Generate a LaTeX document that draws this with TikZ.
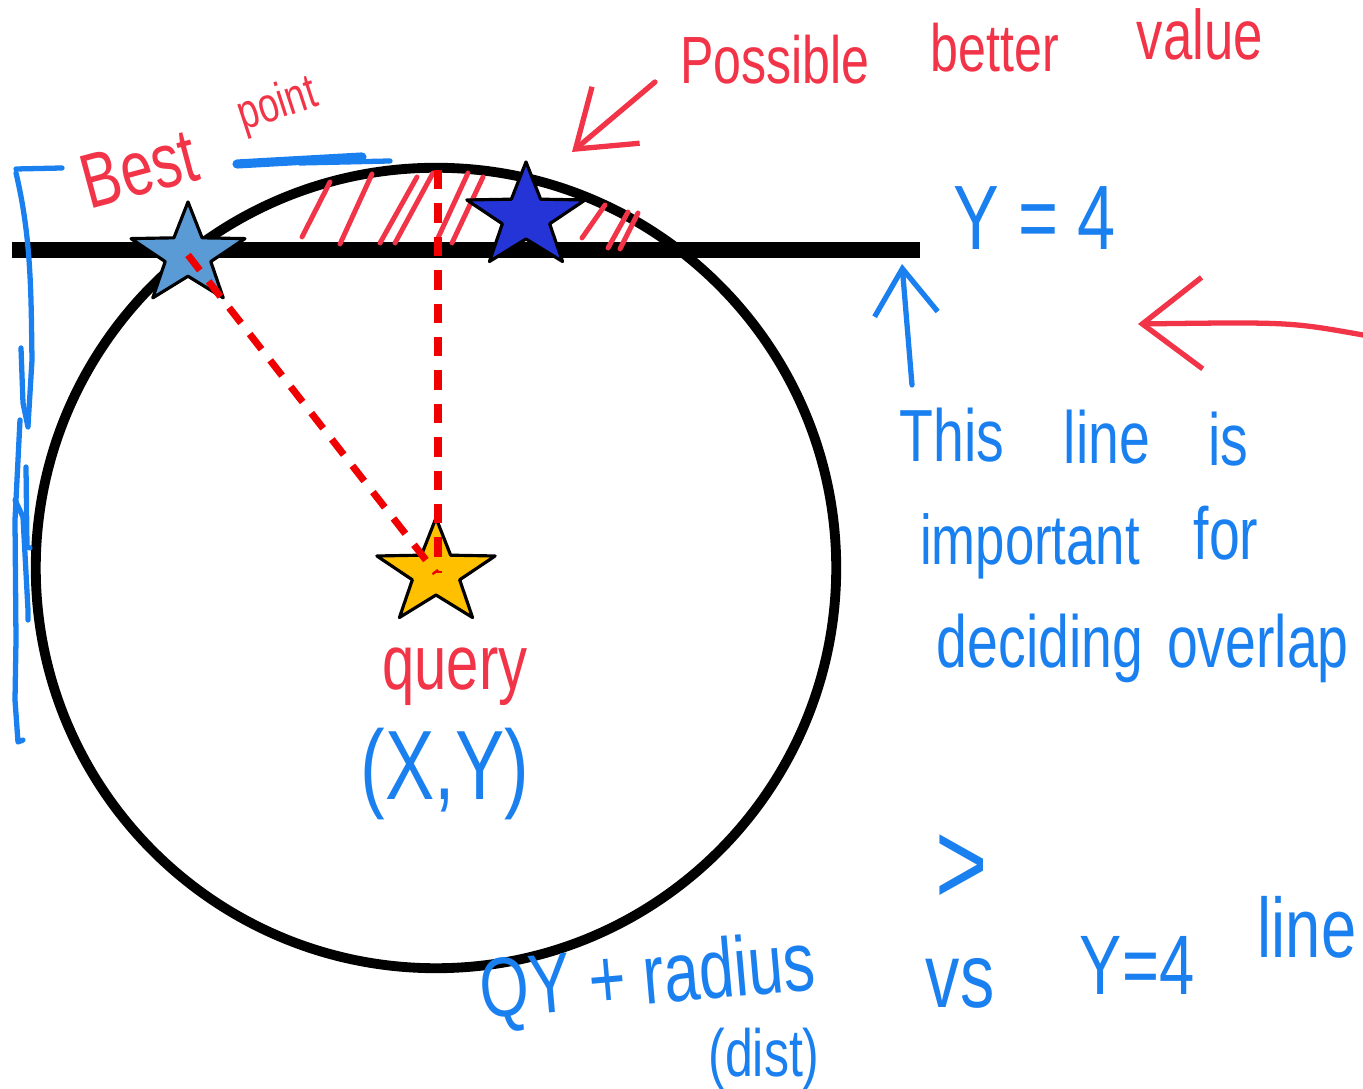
\documentclass[tikz,border=0pt]{standalone}
\usepackage{fontspec}
\newfontfamily\handfont[FakeStretch=0.75]{Liberation Sans}
\usetikzlibrary{shapes.geometric,arrows.meta}
\definecolor{inkred}{RGB}{242,52,72}
\definecolor{inkblue}{RGB}{26,128,240}
\definecolor{guidered}{RGB}{240,0,0}
\definecolor{bestblue}{RGB}{91,155,213}
\definecolor{betterblue}{RGB}{36,52,214}
\definecolor{querygold}{RGB}{255,192,0}
\newcommand{\hand}[2]{\handfont\fontsize{#1}{#2}\selectfont}

\begin{document}
\begin{tikzpicture}[
				x=0.01cm,
				y=-0.01cm,
				line cap=round,
				line join=round,
				redink/.style={draw=inkred, line width=1.5pt},
				blueink/.style={draw=inkblue, line width=1.5pt},
				hatch/.style={draw=inkred, line width=1.4pt},
				redtext/.style={text=inkred, inner sep=0pt, anchor=base},
				bluetext/.style={text=inkblue, inner sep=0pt, anchor=base},
				starmark/.style={star, star points=5, star point ratio=2.5,
					minimum size=1.1cm, inner sep=0pt, xscale=1.13,
					draw=black, line width=0.9pt},
				guide/.style={draw=guidered, line width=2pt, line cap=butt,
					dash pattern=on 5.5pt off 4pt},
				barb/.style={-{Straight Barb[length=13pt,width=18pt]}}
				]
				\useasboundingbox (0,0) rectangle (1363,1089);
				
				% Search circle and the Y = 4 line
				\draw[line width=2.8pt] (436,568) circle[radius=4cm];
				\draw[line width=4.4pt, line cap=butt] (12,250) -- (920,250);
				
				% Hatched region above the line
				\foreach \xa/\ya/\xb/\yb in {302/237/330/182, 340/244/372/174,
					380/243/417/177, 395/243/433/173, 437/240/468/173,
					452/243/483/177, 582/238/605/205, 608/248/628/212,
					620/249/638/213}
					\draw[hatch] (\xa,\ya) -- (\xb,\yb);
				
				% Stars
				\node[starmark, fill=bestblue, minimum size=1.06cm] (best) at (188,255) {};
				\node[starmark, fill=betterblue] (better) at (526,217) {};
				\node[starmark, fill=querygold] (query) at (436,573) {};
				
				% Distances from the query
				\coordinate (top) at (438,170);
				\draw[guide] (best.center) -- (query.center);
				\draw[guide] (top) -- (top |- query.center);
				
				% Best point
				\node[redtext, rotate=15, font=\hand{22}{26}] (bestlbl) at (146,194) {Best};
				\node[redtext, rotate=18, font=\hand{14}{16}] (pointlbl) at (282,118) {point};
				\draw[blueink, line width=2.6pt] (237,164) -- (362,157);
				\draw[blueink] (300,163) -- (390,161);
				
				% Bracket on the left
				\draw[blueink] (62,168) -- (16,169);
				\draw[blueink] (16,173) .. controls (32,240) and (31,300) .. (32,360) -- (28,426);
				\draw[blueink] (21,348) -- (23,403) -- (28,427);
				\draw[blueink] (20,420) -- (15,520) -- (16,640) -- (15,700) -- (18,742) -- (23,740);
				\draw[blueink] (26,467) -- (27,547) -- (30,548);
				\draw[blueink] (15,500) -- (23,517) -- (28,610) -- (28,620);
				
				% Possible better value
				\node[redtext, font=\hand{19}{22}] (possible) at (775,84) {Possible};
				\node[redtext, font=\hand{19}{22}] (betterlbl) at (995,72) {better};
				\node[redtext, font=\hand{20}{22}] (value) at (1200,60) {value};
				\coordinate (pbtail) at (655,82);
				\coordinate (pbtip) at (572,152);
				\draw[redink, -{Straight Barb[length=15pt,width=21pt]}] (pbtail) -- (pbtip);
				
				% Y = 4 and its arrows
				\node[bluetext, font=\hand{26}{30}] (ylbl) at (1035,250) {Y = 4};
				\coordinate (linetail) at (912,385);
				\coordinate (linetip) at (902,264);
				\draw[blueink, barb] (linetail) -- (linetip);
				\coordinate (rtail) at (1363,335);
				\coordinate (rtip) at (1138,324);
				\draw[redink, -{Straight Barb[length=17pt,width=26pt]}]
					(rtail) .. controls (1290,322) .. (rtip);
				
				% Note on the line
				\node[bluetext, font=\hand{21}{24}] (this) at (952,462) {This};
				\node[bluetext, font=\hand{21}{24}] (line) at (1107,464) {line};
				\node[bluetext, font=\hand{21}{24}] (is) at (1228,466) {is};
				\node[bluetext, font=\hand{20}{24}] (important) at (1030,565) {important};
				\node[bluetext, font=\hand{21}{24}] (for) at (1226,560) {for};
				\node[bluetext, font=\hand{21}{24}] (deciding) at (1040,668) {deciding};
				\node[bluetext, font=\hand{21}{24}] (overlap) at (1258,668) {overlap};
				
				% Query labels
				\node[redtext, font=\hand{22}{26}] (querylbl) at (455,690) {query};
				\node[bluetext, font=\hand{28}{32}] (xy) at (445,800) {(X,Y)};
				
				% Comparison
				\node[bluetext, rotate=5, font=\hand{24}{28}] (qy) at (650,1004) {QY + radius};
				\node[bluetext, font=\hand{19}{22}] (dist) at (764,1077) {(dist)};
				\node[bluetext, font=\hand{34}{38}] (gt) at (962,905) {>};
				\node[bluetext, font=\hand{26}{30}] (vs) at (960,1008) {vs};
				\node[bluetext, font=\hand{24}{28}] (yline) at (1137,995) {Y=4};
				\node[bluetext, font=\hand{24}{28}] (linelbl) at (1307,958) {line};
			\end{tikzpicture}
\end{document}
